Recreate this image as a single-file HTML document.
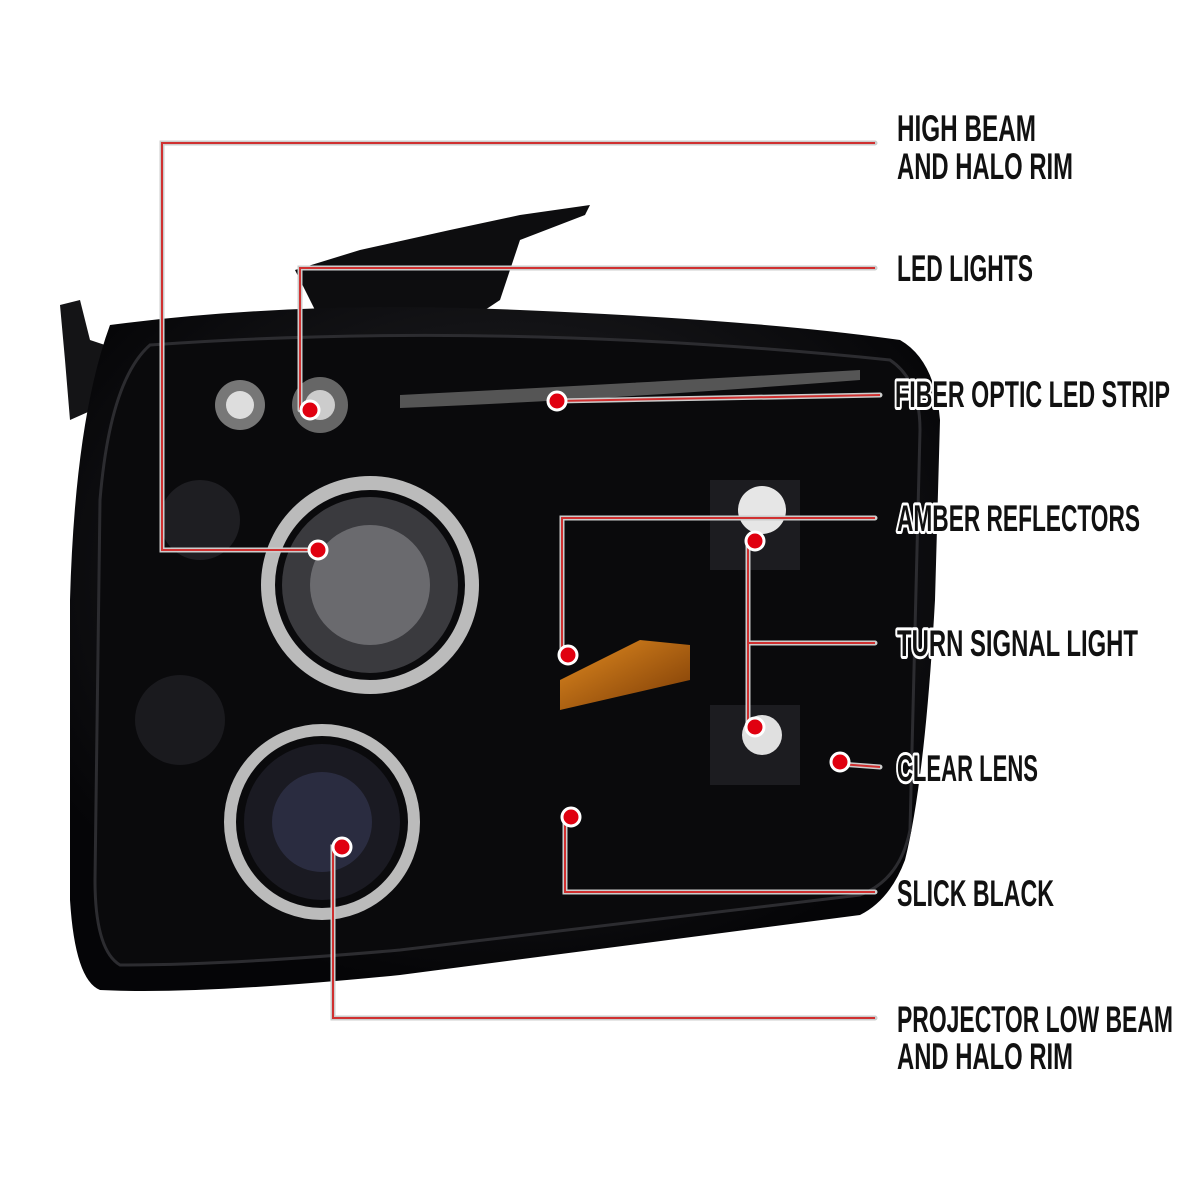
<!DOCTYPE html>
<html><head><meta charset="utf-8"><style>
html,body{margin:0;padding:0;background:#fff;}
svg{display:block}
.l{font-family:"Liberation Sans Narrow","Liberation Sans",sans-serif;font-weight:bold;font-size:37px;fill:#111;stroke:#fff;stroke-width:6px;paint-order:stroke;stroke-linejoin:round;}
</style></head><body>
<svg width="1200" height="1200" viewBox="0 0 1200 1200" xmlns="http://www.w3.org/2000/svg">
<defs>
<radialGradient id="g1" cx="50%" cy="40%" r="60%"><stop offset="0" stop-color="#2a2a2e"/><stop offset="1" stop-color="#050507"/></radialGradient>
<linearGradient id="am" x1="0" y1="0" x2="1" y2="1"><stop offset="0" stop-color="#e08a20"/><stop offset="1" stop-color="#7a3a05"/></linearGradient>
</defs>
<polygon points="295,270 360,250 450,230 520,215 590,205 585,215 520,240 500,300 470,320 320,320" fill="#0d0d0f"/>
<polygon points="60,305 80,300 90,340 120,350 115,400 70,420 65,360" fill="#141416"/>
<path d="M110,325 Q300,300 520,310 Q760,320 900,340 Q935,360 940,420 L935,600 Q925,780 905,860 Q890,900 860,915 L400,975 Q200,995 100,990 Q75,980 70,900 L70,600 Q75,420 110,325 Z" fill="url(#g1)"/>
<path d="M150,345 Q500,320 890,360 Q920,380 920,430 L910,830 Q900,880 860,895 L400,950 Q230,965 120,965 Q95,950 95,880 L100,500 Q110,380 150,345 Z" fill="#0a0a0c" stroke="#2c2c30" stroke-width="3"/>
<path d="M400,395 Q600,385 860,370 L860,380 Q600,400 400,408 Z" fill="#555" />
<circle cx="240" cy="405" r="25" fill="#777"/><circle cx="240" cy="405" r="14" fill="#ddd"/>
<circle cx="320" cy="405" r="28" fill="#666"/><circle cx="320" cy="405" r="15" fill="#ccc"/>
<circle cx="370" cy="585" r="102" fill="none" stroke="#bbb" stroke-width="14"/>
<circle cx="370" cy="585" r="88" fill="#3a3a3e"/>
<circle cx="370" cy="585" r="60" fill="#6a6a6e"/>
<circle cx="322" cy="822" r="92" fill="none" stroke="#bbb" stroke-width="12"/>
<circle cx="322" cy="822" r="78" fill="#1a1a22"/>
<circle cx="322" cy="822" r="50" fill="#2a2c40"/>
<circle cx="200" cy="520" r="40" fill="#1e1e22"/>
<circle cx="180" cy="720" r="45" fill="#1a1a1e"/>
<rect x="710" y="480" width="90" height="90" fill="#1c1c20"/>
<circle cx="762" cy="510" r="24" fill="#e6e6e6"/>
<rect x="710" y="705" width="90" height="80" fill="#1c1c20"/>
<circle cx="762" cy="735" r="20" fill="#e0e0e0"/>
<polygon points="560,680 640,640 690,645 690,680 560,710" fill="url(#am)"/>
<g stroke="#ccc" stroke-width="5" fill="none" stroke-linecap="round">
<polyline points="318,550 162,550 162,143 875,143"/>
<polyline points="300,410 300,268 875,268"/>
<polyline points="557,401 880,395"/>
<polyline points="568,655 562,655 562,518 875,518"/>
<polyline points="748,541 748,727"/>
<polyline points="748,643 875,643"/>
<polyline points="840,764 880,767"/>
<polyline points="571,817 565,817 565,892 875,892"/>
<polyline points="342,847 333,847 333,1018 875,1018"/>
</g>
<g stroke="#d03030" stroke-width="2" fill="none">
<polyline points="318,550 162,550 162,143 875,143"/>
<polyline points="300,410 300,268 875,268"/>
<polyline points="557,401 880,395"/>
<polyline points="568,655 562,655 562,518 875,518"/>
<polyline points="748,541 748,727"/>
<polyline points="748,643 875,643"/>
<polyline points="840,764 880,767"/>
<polyline points="571,817 565,817 565,892 875,892"/>
<polyline points="342,847 333,847 333,1018 875,1018"/>
</g>
<g fill="#e00010" stroke="#fff" stroke-width="3">
<circle cx="318" cy="550" r="9"/><circle cx="310" cy="410" r="9"/><circle cx="557" cy="401" r="9"/>
<circle cx="568" cy="655" r="9"/><circle cx="755" cy="541" r="9"/><circle cx="755" cy="727" r="9"/>
<circle cx="840" cy="762" r="9"/><circle cx="571" cy="817" r="9"/><circle cx="342" cy="847" r="9"/>
</g>
<g class="l">
<text x="897" y="141" textLength="139" lengthAdjust="spacingAndGlyphs">HIGH BEAM</text>
<text x="897" y="179" textLength="176" lengthAdjust="spacingAndGlyphs">AND HALO RIM</text>
<text x="897" y="281" textLength="136" lengthAdjust="spacingAndGlyphs">LED LIGHTS</text>
<text x="895" y="407" textLength="275" lengthAdjust="spacingAndGlyphs">FIBER OPTIC LED STRIP</text>
<text x="897" y="531" textLength="243" lengthAdjust="spacingAndGlyphs">AMBER REFLECTORS</text>
<text x="897" y="656" textLength="241" lengthAdjust="spacingAndGlyphs">TURN SIGNAL LIGHT</text>
<text x="897" y="781" textLength="141" lengthAdjust="spacingAndGlyphs">CLEAR LENS</text>
<text x="897" y="906" textLength="157" lengthAdjust="spacingAndGlyphs">SLICK BLACK</text>
<text x="897" y="1032" textLength="276" lengthAdjust="spacingAndGlyphs">PROJECTOR LOW BEAM</text>
<text x="897" y="1069" textLength="176" lengthAdjust="spacingAndGlyphs">AND HALO RIM</text>
</g>
</svg>
</body></html>
